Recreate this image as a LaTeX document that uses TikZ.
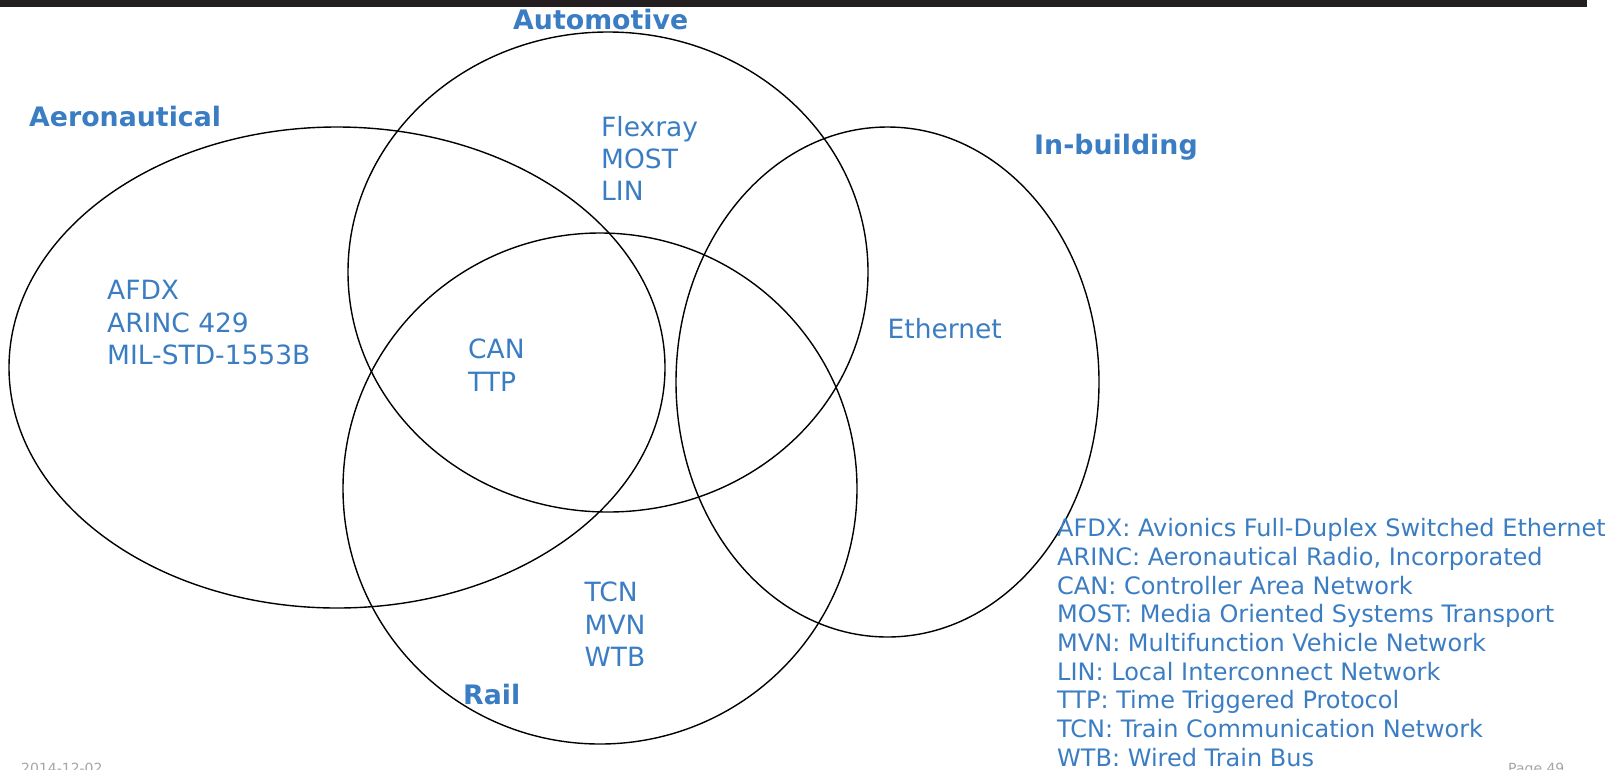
\documentclass[tikz,border=0pt]{standalone}
\usepackage{fontspec}
\setmainfont{DejaVu Sans}
\definecolor{lblue}{RGB}{59,125,195}
\definecolor{barc}{RGB}{35,31,32}
\definecolor{footc}{RGB}{165,165,165}
\begin{document}
\begin{tikzpicture}[x=1pt,y=-1pt,
  ring/.style={line width=1.4pt, black},
  title/.style={font=\fontsize{26.8}{30}\selectfont\bfseries, text=lblue, inner sep=0pt, anchor=base west},
  item/.style={font=\fontsize{26.5}{32}\selectfont, text=lblue, inner sep=0pt, anchor=base west},
  legend/.style={font=\fontsize{24}{28}\selectfont, text=lblue, inner sep=0pt, anchor=base west},
  foot/.style={font=\fontsize{14}{16}\selectfont, text=footc, inner sep=0pt, anchor=base west}]
\useasboundingbox (0,0) rectangle (1605,769);
\fill[barc] (0,0) rectangle (1587,7);
% sets
\draw[ring] (337,367.5) ellipse [x radius=328pt, y radius=240.5pt];
\draw[ring] (608,272) ellipse [x radius=260pt, y radius=240pt];
\draw[ring] (600,488.5) ellipse [x radius=257pt, y radius=255.5pt];
\draw[ring] (887.5,382) ellipse [x radius=211.5pt, y radius=255pt];
% titles
\node[title] (tauto) at (513,29) {Automotive};
\node[title] (taero) at (29,126) {Aeronautical};
\node[title] (tbuild) at (1034,154) {In-building};
\node[title] (trail) at (463,704) {Rail};
% items
\node[item] (flex) at (601,136.6) {Flexray};
\node[item] (most) at (601,168.6) {MOST};
\node[item] (lin) at (601,200.6) {LIN};
\node[item] (afdx) at (107,299.6) {AFDX};
\node[item] (arinc) at (107,332) {ARINC 429};
\node[item] (mil) at (107,364.6) {MIL-STD-1553B};
\node[item] (can) at (468,358.6) {CAN};
\node[item] (ttp) at (468,391.6) {TTP};
\node[item] (eth) at (887.5,338) {Ethernet};
\node[item] (tcn) at (584.5,601.6) {TCN};
\node[item] (mvn) at (584.5,634) {MVN};
\node[item] (wtb) at (584.5,666.6) {WTB};
% legend
\node[legend] (l1) at (1057,536.8) {AFDX: Avionics Full-Duplex Switched Ethernet};
\node[legend] (l2) at (1057,565.5) {ARINC: Aeronautical Radio, Incorporated};
\node[legend] (l3) at (1057,594.1) {CAN: Controller Area Network};
\node[legend] (l4) at (1057,622.8) {MOST: Media Oriented Systems Transport};
\node[legend] (l5) at (1057,651.4) {MVN: Multifunction Vehicle Network};
\node[legend] (l6) at (1057,680.1) {LIN: Local Interconnect Network};
\node[legend] (l7) at (1057,708.8) {TTP: Time Triggered Protocol};
\node[legend] (l8) at (1057,737.4) {TCN: Train Communication Network};
\node[legend] (l9) at (1057,766.1) {WTB: Wired Train Bus};
% footer
\node[foot] (date) at (21,773.2) {2014-12-02};
\node[foot] (page) at (1508,773.2) {Page 49};
\end{tikzpicture}
\end{document}
